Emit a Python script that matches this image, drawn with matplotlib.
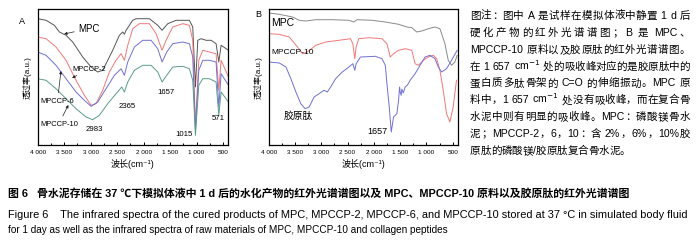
import re
import matplotlib
matplotlib.use('Agg')
import matplotlib.pyplot as plt
from matplotlib import font_manager
from matplotlib.ticker import MultipleLocator, FuncFormatter

names = {f.name for f in font_manager.fontManager.ttflist}
narrow = 'Liberation Sans Narrow' if 'Liberation Sans Narrow' in names else 'Liberation Sans'
plt.rcParams['font.family'] = ['Liberation Sans', 'Noto Sans CJK SC', 'DejaVu Sans']

# ---- panel A: cured products after 1 d in simulated body fluid ----
wn_a_mpc = [4000, 3842, 3685, 3590, 3465, 3339, 3150, 2992, 2866, 2772, 2583, 2457, 2394, 2362, 2331,
            2205, 2142, 1890, 1732, 1650, 1543, 1386, 1134, 1071, 1020, 976, 913, 818, 724, 630, 579, 535, 396]
tr_a_mpc = [126.3, 124.7, 119.7, 113, 109.7, 103, 88, 78, 73, 74.7, 94.7, 109.7, 113, 110.7, 114.7,
            124.7, 126.3, 126.3, 119.7, 114.7, 121.3, 124.7, 124.7, 118, 58, 104.7, 106.3, 104.7, 104.7, 101.3, 83, 99.7, 94.7]

wn_a_cp2 = [4000, 3842, 3654, 3465, 3276, 3118, 2992, 2898, 2772, 2646, 2520, 2425, 2362, 2299, 2205, 2079,
            1890, 1764, 1650, 1575, 1449, 1260, 1134, 1071, 1020, 957, 882, 756, 630, 579, 535, 396]
tr_a_cp2 = [108, 106.3, 98, 84.7, 64.7, 49.7, 39.7, 41.3, 54.7, 73, 84.7, 91.3, 84.7, 99.7, 116.3, 121.3,
            121.3, 111.3, 94.7, 104.7, 118, 121.3, 119.7, 104.7, 19.7, 84.7, 94.7, 93, 91.3, 54.7, 84.7, 68]

wn_a_cp6 = [4000, 3842, 3654, 3465, 3276, 3118, 2992, 2866, 2709, 2551, 2425, 2362, 2299, 2173, 2016, 1858,
            1732, 1650, 1562, 1449, 1260, 1134, 1071, 1020, 957, 882, 756, 630, 579, 535, 396]
tr_a_cp6 = [93, 89.7, 79.7, 66.3, 53, 44.7, 38.7, 43, 56.3, 69.7, 76.3, 69.7, 83, 98, 104.7, 104.7,
            96.3, 83, 93, 101.3, 103, 101.3, 88, 14.7, 74.7, 84.7, 84.7, 83, 38, 71.3, 59.7]

wn_a_cp10 = [4000, 3842, 3654, 3465, 3276, 3087, 2961, 2835, 2677, 2520, 2413, 2362, 2299, 2173, 2016, 1858,
             1732, 1650, 1562, 1449, 1260, 1134, 1071, 1020, 957, 882, 756, 630, 579, 535, 396]
tr_a_cp10 = [66.3, 64.7, 56.3, 46.3, 36.3, 28, 25.3, 29.7, 41.3, 51.3, 58, 53, 63, 74.7, 79.7, 79.7,
             73, 63, 69.7, 78, 78.7, 76.3, 64.7, 9.7, 59.7, 66.3, 66.3, 63, 29.7, 53, 43]

# ---- panel B: raw materials ----
wn_b_mpc = [4000, 3798, 3546, 3420, 3294, 3105, 2790, 2475, 2381, 2318, 2034, 1782, 1530, 1373, 1278, 1184,
            1089, 963, 837, 743, 648, 585, 522, 459, 415]
tr_b_mpc = [132, 130.7, 128, 124.7, 124, 125.3, 125.3, 124.7, 123, 125.3, 124.7, 123, 120.7, 118, 117.3, 113,
            114, 116.3, 118, 116.3, 101.3, 84.7, 79.7, 83, 89.7]

wn_b_cp10 = [4000, 3798, 3609, 3452, 3357, 3263, 3105, 2916, 2664, 2444, 2400, 2362, 2337, 2286, 2097, 1845,
             1751, 1688, 1625, 1530, 1404, 1278, 1215, 1152, 1058, 963, 869, 806, 743, 680, 617, 554, 491, 428]
tr_b_cp10 = [111.3, 110.7, 108, 98, 91.3, 93, 99.7, 103, 104.7, 106.3, 101.3, 86.3, 98, 106.3, 107.3, 106.3,
             101.3, 88, 91.3, 94.7, 96.3, 94.7, 81.3, 79.7, 84.7, 88, 89.7, 86.3, 74.7, 54.7, 31.3, 23, 38, 64.7]

wn_b_col = [4000, 3798, 3672, 3578, 3483, 3389, 3307, 3231, 3137, 3042, 2948, 2885, 2822, 2727, 2601, 2475,
            2400, 2362, 2337, 2255, 1971, 1845, 1782, 1751, 1707, 1669, 1625, 1562, 1530, 1510, 1499, 1480,
            1467, 1440, 1404, 1360, 1310, 1215, 1121, 1026, 932, 837, 774, 711, 617, 522, 415]
tr_b_col = [83, 82, 78, 66.3, 53, 41.3, 36.3, 38, 48, 51.3, 54.7, 53, 58, 66.3, 73, 78,
            81.3, 74.7, 81.3, 88, 88.7, 86.3, 79.7, 61.3, 38, 13, 28, 31.3, 44.7, 58, 53, 49.7,
            56, 52, 58, 60, 64.7, 71.3, 79.7, 88, 89.7, 86.3, 78, 73, 76.3, 84.7, 94.7]

labels_a = ['MPC', 'MPCCP-2', 'MPCCP-6', 'MPCCP-10']
peaks_a = ['2983', '2365', '1657', '1015', '571']
labels_b = ['MPC', 'MPCCP-10', '胶原肽', '1657']

note_lines = [
    '图注：图中 A 是试样在模拟体液中静置 1 d 后',
    '硬化产物的红外光谱谱图；B 是 MPC、',
    'MPCCP-10 原料以及胶原肽的红外光谱谱图。',
    '在 1 657 cm$^{-1}$ 处的吸收峰对应的是胶原肽中的',
    '蛋白质多肽骨架的 C=O 的伸缩振动。MPC 原',
    '料中，1 657 cm$^{-1}$ 处没有吸收峰，而在复合骨',
    '水泥中则有明显的吸收峰。MPC：磷酸镁骨水',
    '泥；MPCCP-2，6，10：含 2%，6%，10%胶',
    '原肽的磷酸镁/胶原肽复合骨水泥。',
]
caption_cn = '图 6   骨水泥存储在 37 ℃下模拟体液中 1 d 后的水化产物的红外光谱谱图以及 MPC、MPCCP-10 原料以及胶原肽的红外光谱谱图'
caption_en = [
    'Figure 6    The infrared spectra of the cured products of MPC, MPCCP-2, MPCCP-6, and MPCCP-10 stored at 37 °C in simulated body fluid',
    'for 1 day as well as the infrared spectra of raw materials of MPC, MPCCP-10 and collagen peptides',
]

W, H = 700, 251
fig = plt.figure(figsize=(7, 2.51), dpi=100)
fig.patch.set_facecolor('white')


def box(x0, y0, x1, y1):
    return [x0 / W, 1 - y1 / H, (x1 - x0) / W, (y1 - y0) / H]


def style(ax):
    ax.set_xlim(4000, 405)
    ax.set_ylim(0, 136.3)
    ax.xaxis.set_major_locator(MultipleLocator(500))
    ax.xaxis.set_minor_locator(MultipleLocator(250))
    ax.xaxis.set_major_formatter(FuncFormatter(lambda v, p: f'{int(v):,}'.replace(',', ' ')))
    ax.set_yticks([])
    ax.tick_params(axis='x', which='both', direction='in', labelsize=4.6, pad=3, width=0.7)
    ax.tick_params(axis='x', which='major', length=2.5)
    ax.tick_params(axis='x', which='minor', length=1.5)
    for s in ax.spines.values():
        s.set_linewidth(0.9)
    ax.set_xlabel('波长(cm⁻¹)', fontsize=6.5, labelpad=3)
    ax.set_ylabel('透过率(a.u.)', fontsize=5.8, labelpad=4)


arrow = dict(arrowstyle='-|>', lw=0.5, color='#222222', mutation_scale=4, shrinkA=1, shrinkB=0)

axA = fig.add_axes(box(37.7, 9.7, 228, 146))
axA.plot(wn_a_mpc, tr_a_mpc, color='#555555', lw=0.7)
axA.plot(wn_a_cp2, tr_a_cp2, color='#f07878', lw=0.7)
axA.plot(wn_a_cp6, tr_a_cp6, color='#7070d4', lw=0.7)
axA.plot(wn_a_cp10, tr_a_cp10, color='#5c9a8a', lw=0.7)
style(axA)
axA.annotate(labels_a[0], xy=(3500, 111), xytext=(3030, 116.5), fontsize=7, ha='center', va='center', arrowprops=arrow)
axA.annotate(labels_a[1], xy=(3350, 67), xytext=(3020, 76.5), fontsize=5.4, ha='center', va='center', arrowprops=arrow)
axA.annotate(labels_a[2], xy=(3560, 74), xytext=(3626, 44.5), fontsize=5.4, ha='center', va='center', arrowprops=arrow)
axA.annotate(labels_a[3], xy=(3420, 40), xytext=(3598, 21.5), fontsize=5.4, ha='center', va='center', arrowprops=arrow)
for s, x, y in zip(peaks_a, [2926, 2313, 1577, 1231, 585], [16.5, 39.5, 53, 11, 28]):
    axA.text(x, y, s, fontsize=5.6, ha='center', va='center')
fig.text(22 / W, 1 - 21 / H, 'A', fontsize=6.5, ha='center', va='center')

axB = fig.add_axes(box(268.7, 9.7, 457.7, 146))
axB.plot(wn_b_mpc, tr_b_mpc, color='#8a8a8a', lw=0.7)
axB.plot(wn_b_cp10, tr_b_cp10, color='#f07878', lw=0.7)
axB.plot(wn_b_col, tr_b_col, color='#7070d4', lw=0.7)
style(axB)
axB.text(3957, 123, labels_b[0], fontsize=7.5, ha='left', va='center')
axB.text(3957, 94, labels_b[1], fontsize=6, ha='left', va='center')
axB.text(3428, 29.7, labels_b[2], fontsize=7, ha='center', va='center')
axB.text(1941, 14.3, labels_b[3], fontsize=6.5, ha='center', va='center')
fig.text(258 / W, 1 - 15 / H, 'B', fontsize=6.5, ha='center', va='center')

renderer = fig.canvas.get_renderer()


def justified(line, x0, x1, yb, size, justify=True):
    parts = re.findall(r'(\s*)([A-Za-z0-9=%/\-\.]+(?:\$\^\{-1\}\$)?|\S)', line)
    objs, widths, gaps = [], [], []
    for i, (sp, tok) in enumerate(parts):
        t = fig.text(0, 1 - yb / H, tok, fontsize=size, va='baseline', ha='left')
        objs.append(t)
        widths.append(t.get_window_extent(renderer).width)
        gaps.append(size * 100 / 72 * 0.3 if (sp and i) else 0.0)
    natural = sum(widths) + sum(gaps)
    extra = (x1 - x0 - natural) / (len(objs) - 1) if justify and len(objs) > 1 else 0.0
    x = x0
    for i, t in enumerate(objs):
        if i:
            x += gaps[i] + extra
        t.set_x(x / W)
        x += widths[i]


def fitted(s, x0, x1, yb, base, **kw):
    t = fig.text(x0 / W, 1 - yb / H, s, fontsize=base, va='baseline', ha='left', **kw)
    w = t.get_window_extent(renderer).width
    t.set_fontsize(base * (x1 - x0) / w)


for i, line in enumerate(note_lines):
    justified(line, 470, 690, 15 + i * 16.85 + 4, 7.6, justify=(i < len(note_lines) - 1))

fitted(caption_cn, 8, 633, 197, 8, fontweight='bold')
fitted(caption_en[0], 8, 688, 218, 7.5, family=narrow)
fitted(caption_en[1], 8, 450, 233.5, 7.5, family=narrow)

fig.savefig('out.png', dpi=100)
